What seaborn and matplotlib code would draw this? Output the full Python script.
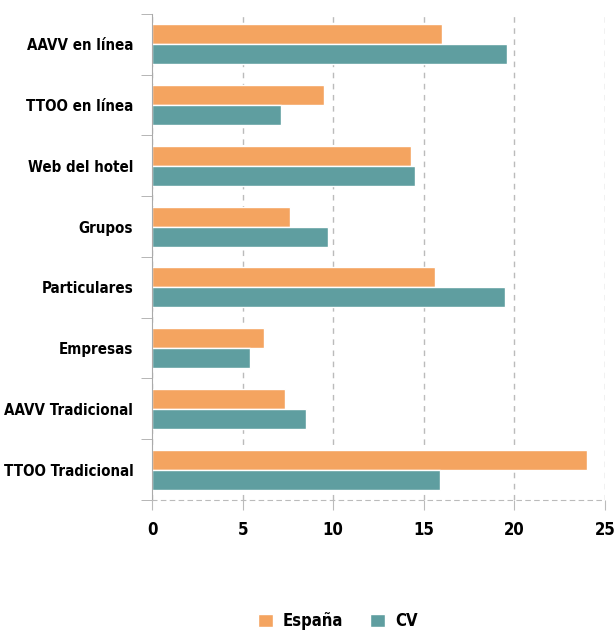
import pandas as pd
import matplotlib.pyplot as plt
import seaborn as sns
from matplotlib.ticker import FixedLocator

# Datos
canales = ["AAVV en línea", "TTOO en línea", "Web del hotel", "Grupos",
           "Particulares", "Empresas", "AAVV Tradicional", "TTOO Tradicional"]
espana = [16.0, 9.5, 14.3, 7.6, 15.65, 6.2, 7.35, 24.0]
cv = [19.6, 7.1, 14.5, 9.7, 19.5, 5.4, 8.5, 15.9]

df = pd.DataFrame({"Canal": canales * 2,
                   "Valor": espana + cv,
                   "Serie": ["España"] * len(canales) + ["CV"] * len(canales)})

sns.set_style("white")
plt.rcParams["font.family"] = ["DejaVu Sans"]
plt.rcParams["font.stretch"] = "condensed"
plt.rcParams["font.weight"] = "bold"
plt.rcParams["text.color"] = "black"

fig = plt.figure(figsize=(6.14, 6.35), dpi=100)
ax = fig.add_axes([0.2476, 0.2126, 0.7374, 0.7654])

sns.barplot(data=df, y="Canal", x="Valor", hue="Serie", orient="h",
            palette={"España": "#F4A460", "CV": "#5F9EA0"},
            width=0.66, ax=ax, saturation=1)

ax.set_xlim(0, 25)
ax.set_ylim(7.5, -0.5)
ax.set_xlabel("")
ax.set_ylabel("")
ax.set_xticks([0, 5, 10, 15, 20, 25])
ax.xaxis.grid(True, linestyle=(0, (4, 4)), color="#bbbbbb", linewidth=1)
ax.yaxis.grid(False)

for s in ["top", "right"]:
    ax.spines[s].set_visible(False)
ax.spines["left"].set_color("#aaaaaa")
ax.spines["bottom"].set_color("#bbbbbb")
ax.spines["bottom"].set_linestyle((0, (4, 4)))

ax.yaxis.set_minor_locator(FixedLocator([i - 0.5 for i in range(9)]))
ax.tick_params(axis="y", which="major", length=0, pad=13.5, labelsize=10.8,
               labelcolor="black")
ax.tick_params(axis="y", which="minor", length=8, color="#aaaaaa", left=True)
ax.tick_params(axis="x", length=7, color="#bbbbbb", pad=8, labelsize=12,
               bottom=True, labelcolor="black")

leg = ax.legend(loc="upper center", bbox_to_anchor=(0.41, -0.2), ncol=2,
                frameon=False, fontsize=12, handlelength=0.9, handleheight=0.9,
                columnspacing=1.6, handletextpad=0.6)

fig.savefig("out.png", dpi=100)
